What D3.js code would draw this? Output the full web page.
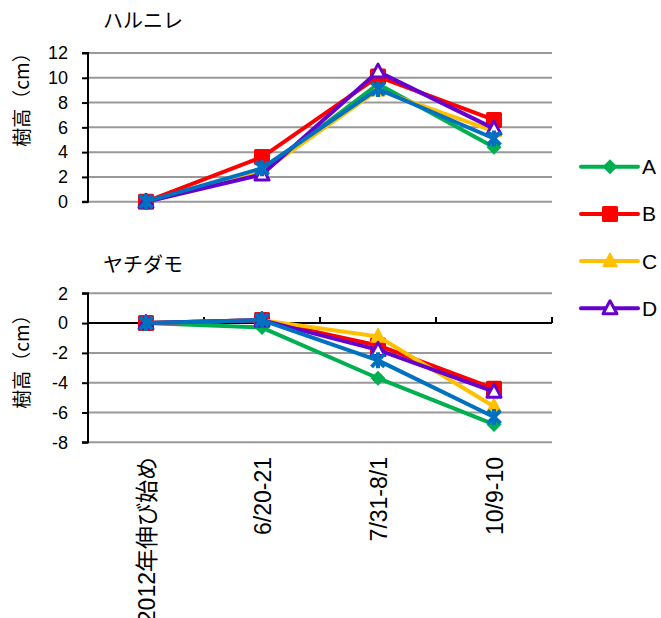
<!DOCTYPE html>
<html><head><meta charset="utf-8">
<script src="https://cdn.jsdelivr.net/npm/d3@7"></script>
<style>
body{margin:0;background:#fff;}
text{fill:#000;}
</style></head>
<body>
<svg id="c" width="661" height="618"></svg>
<script>
const categories = ["2012年伸び始め","6/20-21","7/31-8/1","10/9-10"];
const seriesNames = ["A","B","C","D","E"];
const seriesColors = ["#00B050","#FF0000","#FFC000","#6600CC","#0070C0"];
const seriesMarkers = ["diamond","square","triangle","triangleOpen","asterisk"];
const legendNames = ["A","B","C","D"];
// ハルニレ
const topValues = [
  [0, 2.4, 9.5, 4.4],
  [0, 3.6, 10.1, 6.6],
  [0, 2.4, 9.0, 5.7],
  [0, 2.2, 10.5, 5.9],
  [0, 2.7, 9.1, 5.1]
];
// ヤチダモ
const botValues = [
  [0, -0.3, -3.7, -6.8],
  [0, 0.2, -1.5, -4.4],
  [0, 0.2, -0.9, -5.6],
  [0, 0.2, -1.8, -4.6],
  [0, 0.2, -2.5, -6.3]
];
const topTicks = [0,2,4,6,8,10,12];
const botTicks = [-8,-6,-4,-2,0,2];
const titles = ["ハルニレ","ヤチダモ"];
const yLabel = "樹高（cm）";

const LAT = '"Liberation Sans", Arial, "Noto Sans CJK JP", sans-serif';
const CJK = '"Noto Sans CJK JP", sans-serif';

const svg = d3.select("#c");
const x = d3.scaleBand().domain(categories).range([88, 552]);
const cx = c => x(c) + x.bandwidth()/2;

function marker(g, type, color){
  if(type==="diamond"){
    g.append("path").attr("d","M0,-7.5L7.5,0L0,7.5L-7.5,0Z").attr("fill",color);
  } else if(type==="square"){
    g.append("rect").attr("x",-8).attr("y",-8).attr("width",16).attr("height",16).attr("rx",1.5).attr("fill",color);
  } else if(type==="triangle"){
    g.append("path").attr("d","M0,-8L7,5.5L-7,5.5Z").attr("fill",color).attr("stroke",color).attr("stroke-width",1.5).attr("stroke-linejoin","round");
  } else if(type==="triangleOpen"){
    g.append("path").attr("d","M0,-7.5L7,5.5L-7,5.5Z").attr("fill","#fff").attr("stroke",color).attr("stroke-width",3).attr("stroke-linejoin","round");
  } else if(type==="asterisk"){
    g.append("path").attr("d","M-6.5,-6.5L6.5,6.5M-6.5,6.5L6.5,-6.5M0,-8L0,8").attr("stroke",color).attr("stroke-width",4).attr("fill","none");
  }
}

function panel(values, ticks, yRange, title, titleY, labelY, axisZero){
  const y = d3.scaleLinear().domain(d3.extent(ticks)).range(yRange);
  const g = svg.append("g");
  g.selectAll("line.grid").data(ticks.filter(t=>!(axisZero && t===0))).join("line")
    .attr("x1",88).attr("x2",552).attr("y1",d=>y(d)).attr("y2",d=>y(d))
    .attr("stroke","#999").attr("stroke-width",2);
  const ax = d3.axisLeft(y).tickValues(ticks).tickSize(6).tickFormat(d=>String(d));
  const ag = g.append("g").attr("transform","translate(88,0)").call(ax);
  ag.select(".domain").attr("stroke","#000").attr("stroke-width",2).attr("d",`M-6,${yRange[1]}H0V${yRange[0]}H-6`);
  ag.selectAll(".tick line").attr("stroke","#000").attr("stroke-width",2);
  ag.selectAll(".tick text").attr("x",-20).attr("fill","#000")
    .style("font-size","18px").style("font-family",LAT);
  if(axisZero){
    const bounds = categories.map(c=>x(c)+x.bandwidth());
    const zg = g.append("g").attr("transform",`translate(0,${y(0)})`);
    zg.append("line").attr("x1",88).attr("x2",552).attr("y1",0).attr("y2",0)
      .attr("stroke","#000").attr("stroke-width",2);
    zg.selectAll("line.bt").data(bounds).join("line")
      .attr("x1",d=>d).attr("x2",d=>d).attr("y1",0).attr("y2",-6)
      .attr("stroke","#000").attr("stroke-width",2);
  }
  g.append("text").attr("x",103).attr("y",titleY)
    .style("font-size","20px").style("font-family",CJK).text(title);
  g.append("text").attr("transform",`translate(29,${labelY}) rotate(-90)`)
    .attr("text-anchor","middle")
    .style("font-size","19px").style("font-family",CJK).text(yLabel);
  const line = d3.line().x((d,i)=>cx(categories[i])).y(d=>y(d));
  values.forEach((vals,si)=>{
    g.append("path").attr("d",line(vals)).attr("fill","none")
      .attr("stroke",seriesColors[si]).attr("stroke-width",4).attr("stroke-linejoin","round");
    vals.forEach((v,i)=>{
      const mg = g.append("g").attr("transform",`translate(${cx(categories[i])},${y(v)})`);
      marker(mg, seriesMarkers[si], seriesColors[si]);
    });
  });
  return y;
}

panel(topValues, topTicks, [201.7, 53], titles[0], 28, 95, false);
panel(botValues, botTicks, [442.3, 293.3], titles[1], 272, 357, true);

svg.selectAll("text.xl").data(categories).join("text")
  .attr("transform",d=>`translate(${cx(d)+1},457) rotate(-90)`)
  .attr("dy","0.35em").attr("text-anchor","end")
  .style("font-size","23px").style("font-family",LAT)
  .text(d=>d);

const lg = svg.append("g");
legendNames.forEach((n,i)=>{
  const yy = 166.7 + i*47.2;
  const gi = lg.append("g").attr("transform",`translate(0,${yy})`);
  gi.append("line").attr("x1",581).attr("x2",638).attr("y1",0).attr("y2",0)
    .attr("stroke",seriesColors[i]).attr("stroke-width",4).attr("stroke-linecap","round");
  const mg = gi.append("g").attr("transform","translate(610,0)");
  marker(mg, seriesMarkers[i], seriesColors[i]);
  gi.append("text").attr("x",642).attr("y",0).attr("dy","0.36em")
    .style("font-size","21px").style("font-family",LAT).text(n);
});
</script>
</body></html>
